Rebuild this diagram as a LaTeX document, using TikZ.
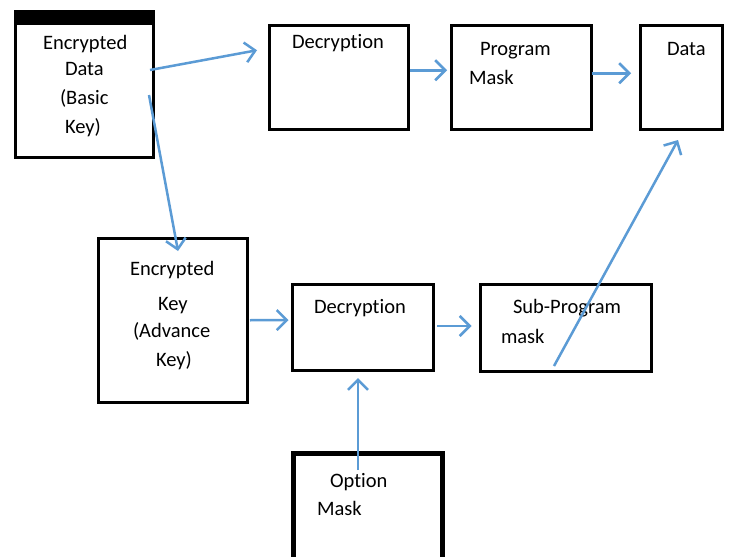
\documentclass[tikz,border=0pt]{standalone}
\usepackage{fontspec}
\setmainfont[Ligatures=NoCommon]{Carlito}
\usetikzlibrary{arrows.meta}
\definecolor{arr}{HTML}{5B9BD5}
\begin{document}
\begin{tikzpicture}[x=1pt,y=-1pt,
  box/.style={draw=black,line width=3pt,inner sep=0pt,outer sep=0pt},
  txt/.style={anchor=base west,inner sep=0pt,outer sep=0pt,font=\fontsize{20.5}{24}\selectfont},
  conn/.style={draw=arr,line width=2.5pt,-{Straight Barb[length=10pt,width=20pt]}}]
\useasboundingbox[fill=white] (0,0) rectangle (742,557);
% boxes
\node[box,minimum width=137.5pt,minimum height=145pt] (ed) at (84.25,84.5) {};
\node[fill=black,inner sep=0pt,outer sep=0pt,minimum width=141pt,minimum height=15pt] (edbar) at (84.5,17.5) {};
\node[box,minimum width=138.5pt,minimum height=103.5pt] (dec1) at (338.75,77.25) {};
\node[box,minimum width=140pt,minimum height=103.5pt] (pm) at (521,77.25) {};
\node[box,minimum width=82pt,minimum height=103.5pt] (data) at (681,77.25) {};
\node[box,minimum width=149pt,minimum height=163.5pt] (ek) at (173,320.25) {};
\node[box,minimum width=141pt,minimum height=86pt] (dec2) at (363,327) {};
\node[box,minimum width=171pt,minimum height=87pt] (sub) at (566,327.5) {};
\node[box,line width=5pt,minimum width=149pt,minimum height=121pt] (opt) at (367.5,514) {};
% texts
\node[txt] (t1) at (43,49) {Encrypted};
\node[txt] (t2) at (65,75) {Data};
\node[txt] (t3) at (60,104) {(Basic};
\node[txt] (t4) at (65,133) {Key)};
\node[txt] (t5) at (292,48) {Decryption};
\node[txt] (t6) at (480,55) {Program};
\node[txt] (t7) at (469,84) {Mask};
\node[txt] (t8) at (667,55) {Data};
\node[txt] (t9) at (130,275) {Encrypted};
\node[txt] (t10) at (158,310) {Key};
\node[txt] (t11) at (133,337) {(Advance};
\node[txt] (t12) at (156,366) {Key)};
\node[txt] (t13) at (314,313) {Decryption};
\node[txt] (t14) at (513,313) {Sub-Program};
\node[txt] (t15) at (501,343) {mask};
\node[txt] (t16) at (330,487) {Option};
\node[txt] (t17) at (317,515) {Mask};
% connectors
\draw[conn] ([shift={(-3,-14.5)}]ed.east) -- ([shift={(-12.5,-27)}]dec1.west);
\draw[conn] ([shift={(-4,10.5)}]ed.east) -- ([shift={(5,12.5)}]ek.north);
\draw[conn] ([shift={(2,-7)}]dec1.east) -- ([shift={(-4,-7)}]pm.west);
\draw[conn] ([shift={(1,-4)}]pm.east) -- ([shift={(-9,-4)}]data.west);
\draw[conn] ([shift={(2.5,0)}]ek.east) -- ([shift={(-4,-7)}]dec2.west);
\draw[conn] ([shift={(3.5,-1)}]dec2.east) -- ([shift={(-9,-1.5)}]sub.west);
\draw[conn] ([shift={(-12,-5)}]sub.south) -- ([shift={(-3,11)}]data.south);
\draw[conn] ([shift={(-9.5,16.5)}]opt.north) -- ([shift={(-5,8)}]dec2.south);
\end{tikzpicture}
\end{document}
